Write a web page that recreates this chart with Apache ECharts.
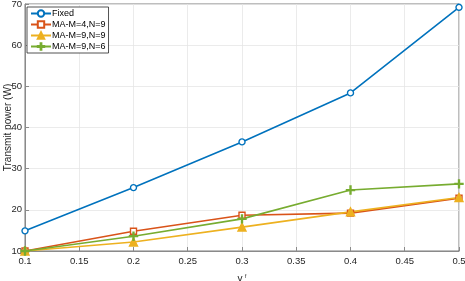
<!DOCTYPE html>
<html><head><meta charset="utf-8">
<script src="https://cdn.jsdelivr.net/npm/echarts@6/dist/echarts.min.js"></script>
<style>html,body{margin:0;padding:0;background:#fff}#c{width:465px;height:281px}</style>
</head><body><div id="c"></div>
<script>
const xValues = [0.1, 0.2, 0.3, 0.4, 0.5];
const fixed = [14.9, 25.4, 36.5, 48.4, 69.2];
const ma49 = [10.0, 14.8, 18.7, 19.2, 22.8];
const ma99 = [10.0, 12.2, 15.8, 19.5, 23.0];
const ma96 = [10.0, 13.6, 17.8, 24.8, 26.3];
const seriesNames = ['Fixed', 'MA-M=4,N=9', 'MA-M=9,N=9', 'MA-M=9,N=6'];
const colors = ['#0072BD', '#D95319', '#EDB120', '#77AC30'];
const plusPath = 'path://M4.4,0H5.6V4.4H10V5.6H5.6V10H4.4V5.6H0V4.4H4.4Z';

const chart = echarts.init(document.getElementById('c'));
const font = 'Liberation Sans, Arial, sans-serif';
const pair = a => a.map((v, i) => [xValues[i], v]);
const mk = (name, data, color, symbol, size, filled) => ({
  name, type: 'line', data: pair(data), symbol, symbolSize: size,
  lineStyle: { color, width: 1.6 },
  itemStyle: { color: filled ? color : '#fff', borderColor: color, borderWidth: 1.4 },
  showAllSymbol: true, animation: false, z: 3
});
chart.setOption({
  animation: false,
  grid: { left: 25, right: 6, top: 4, bottom: 30, show: true, borderColor: '#262626', borderWidth: 0.6,
          containLabel: false, outerBoundsMode: 'none' },
  xAxis: {
    type: 'value', min: 0.1, max: 0.5, interval: 0.05,
    axisLine: { lineStyle: { color: '#8a8a8a' } },
    axisTick: { inside: true, length: 4, lineStyle: { color: '#8a8a8a' } },
    axisLabel: { color: '#262626', fontSize: 9.5, fontFamily: font, margin: 5, formatter: v => +v.toFixed(2) + '' },
    splitLine: { show: true, lineStyle: { color: '#e6e6e6', width: 0.8 } },
    name: '{g|γ}{s| ᶠ}', nameLocation: 'middle', nameGap: 23, nameMoveOverlap: false,
    nameTextStyle: { rich: { g: { fontSize: 10, color: '#262626', fontFamily: font }, s: { fontSize: 8, color: '#262626', verticalAlign: 'top', fontFamily: font } } }
  },
  yAxis: {
    type: 'value', min: 10, max: 70, interval: 10,
    axisLine: { show: true, lineStyle: { color: '#8a8a8a' } },
    axisTick: { show: true, inside: true, length: 4, lineStyle: { color: '#8a8a8a' } },
    axisLabel: { color: '#262626', fontSize: 9.5, fontFamily: font, margin: 3 },
    splitLine: { show: true, lineStyle: { color: '#e6e6e6', width: 0.8 } },
    name: 'Transmit power (W)', nameLocation: 'middle', nameGap: 12, nameMoveOverlap: false,
    nameTextStyle: { color: '#262626', fontSize: 10, fontFamily: font }
  },
  legend: {
    left: 27, top: 7, orient: 'vertical', itemGap: 2, itemWidth: 20, itemHeight: 8,
    padding: [2, 3, 2, 3], borderColor: '#262626', borderWidth: 0.8, backgroundColor: '#fff',
    textStyle: { fontSize: 9, color: '#000', fontFamily: font, padding: [0, 0, 0, -4] },
    data: seriesNames
  },
  series: [
    mk(seriesNames[0], fixed, colors[0], 'circle', 6, false),
    mk(seriesNames[1], ma49, colors[1], 'rect', 6, false),
    mk(seriesNames[2], ma99, colors[2], 'triangle', 8, true),
    mk(seriesNames[3], ma96, colors[3], plusPath, 8, true)
  ]
});
</script></body></html>
